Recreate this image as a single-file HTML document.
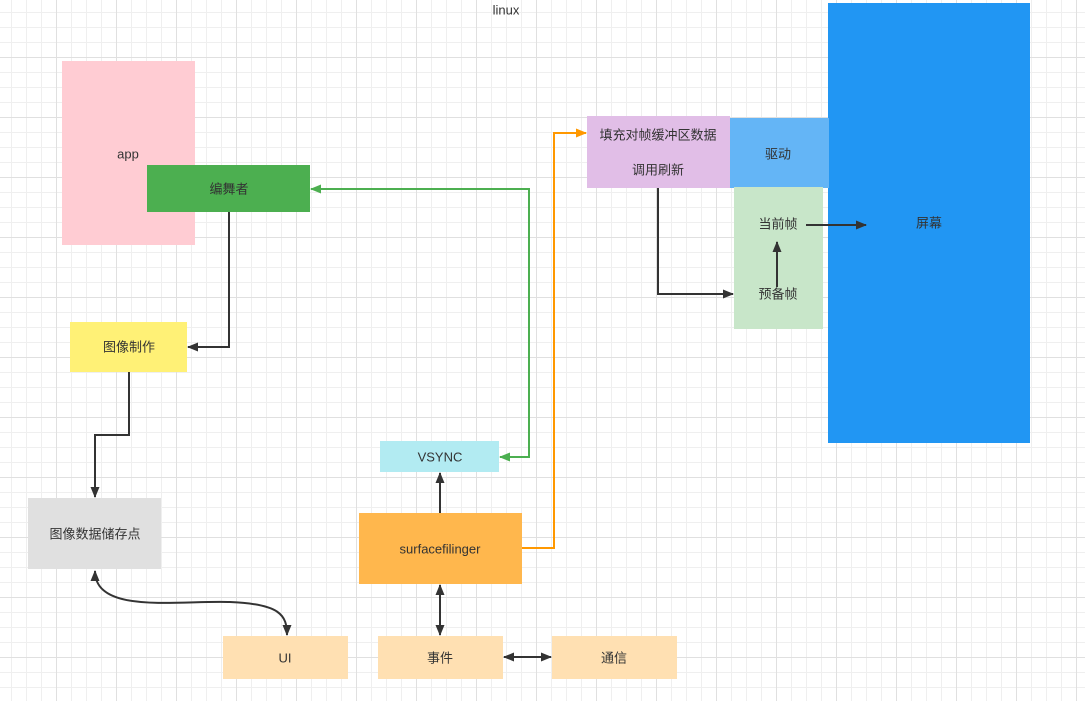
<!DOCTYPE html>
<html><head><meta charset="utf-8"><style>
html,body{margin:0;padding:0;background:#fff}
svg text{font-family:"Liberation Sans","Noto Sans CJK SC",sans-serif;font-size:13px;fill:#333;text-anchor:middle;dominant-baseline:central}
</style></head><body>
<svg width="1085" height="701" xmlns="http://www.w3.org/2000/svg">
<defs>
<pattern id="g" x="11" y="12" width="60" height="60" patternUnits="userSpaceOnUse">
<path d="M0.5 0V60M15.5 0V60M30.5 0V60M0 0.5H60M0 15.5H60M0 30.5H60" stroke="#efefef" stroke-width="1" fill="none"/>
<path d="M45.5 0V60M0 45.5H60" stroke="#e0e0e0" stroke-width="1" fill="none"/>
</pattern>
<marker id="a" markerWidth="12" markerHeight="12" refX="10" refY="6" orient="auto-start-reverse" markerUnits="userSpaceOnUse"><path d="M0 1.5L11 6L0 10.5Z" fill="#333"/></marker>
<marker id="ag" markerWidth="12" markerHeight="12" refX="10" refY="6" orient="auto-start-reverse" markerUnits="userSpaceOnUse"><path d="M0 1.5L11 6L0 10.5Z" fill="#4caf50"/></marker>
<marker id="ao" markerWidth="12" markerHeight="12" refX="10" refY="6" orient="auto-start-reverse" markerUnits="userSpaceOnUse"><path d="M0 1.5L11 6L0 10.5Z" fill="#ff9800"/></marker>
</defs>
<rect width="1085" height="701" fill="url(#g)"/>
<text x="506" y="10">linux</text>
<rect x="828" y="3" width="202" height="440" fill="#2196f3"/>
<text x="929" y="223">屏幕</text>
<rect x="62" y="61" width="133" height="184" fill="#ffccd3"/>
<text x="128" y="154">app</text>
<rect x="147" y="165" width="163" height="47" fill="#4caf50"/>
<text x="229" y="189">编舞者</text>
<rect x="70" y="322" width="117" height="50" fill="#fff176"/>
<text x="129" y="347">图像制作</text>
<rect x="28" y="498" width="133" height="71" fill="#e0e0e0"/>
<text x="95" y="534">图像数据储存点</text>
<rect x="380" y="441" width="119" height="31" fill="#b2ebf2"/>
<text x="440" y="457">VSYNC</text>
<rect x="359" y="513" width="163" height="71" fill="#ffb74d"/>
<text x="440" y="549">surfacefilinger</text>
<rect x="223" y="636" width="125" height="43" fill="#ffe0b2"/>
<text x="285" y="658">UI</text>
<rect x="378" y="636" width="125" height="43" fill="#ffe0b2"/>
<text x="440" y="658">事件</text>
<rect x="552" y="636" width="125" height="43" fill="#ffe0b2"/>
<text x="614" y="658">通信</text>
<rect x="729" y="118" width="100" height="70" fill="#64b5f6"/>
<text x="778" y="154">驱动</text>
<rect x="587" y="116" width="143" height="72" fill="#e1bee7"/>
<text x="658" y="135">填充对帧缓冲区数据</text>
<text x="658" y="170">调用刷新</text>
<rect x="734" y="187" width="89" height="142" fill="#c8e6c9"/>
<text x="778" y="224">当前帧</text>
<text x="778" y="294">预备帧</text>
<g fill="none" stroke="#333" stroke-width="2">
<path d="M229 212V347H188" marker-end="url(#a)"/>
<path d="M129 372V435H95V497" marker-end="url(#a)"/>
<path d="M658 188V294H733" marker-end="url(#a)"/>
<path d="M777 287V242" marker-end="url(#a)"/>
<path d="M806 225H866" marker-end="url(#a)"/>
<path d="M440 513V473" marker-end="url(#a)"/>
<path d="M440 585V635" marker-start="url(#a)" marker-end="url(#a)"/>
<path d="M504 657H551" marker-start="url(#a)" marker-end="url(#a)"/>
<path d="M95 571C95 615 180 600 230 602C280 604 287 615 287 635" marker-start="url(#a)" marker-end="url(#a)"/>
</g>
<path d="M500 457H529V189H311" fill="none" stroke="#4caf50" stroke-width="2" marker-start="url(#ag)" marker-end="url(#ag)"/>
<path d="M522 548H554V133H586" fill="none" stroke="#ff9800" stroke-width="2" marker-end="url(#ao)"/>
</svg>
</body></html>
